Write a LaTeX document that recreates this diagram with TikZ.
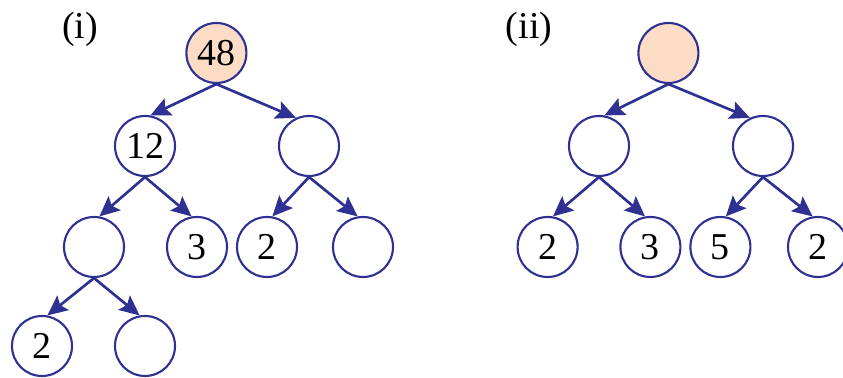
\documentclass[tikz,border=0pt]{standalone}
\usepackage{fontspec}
\setmainfont{Liberation Serif}
\usetikzlibrary{arrows.meta}
\definecolor{treeblue}{HTML}{2E3192}
\definecolor{rootfill}{HTML}{FDDCC5}

\begin{document}
\begin{tikzpicture}[
    treenode/.style={circle, draw=treeblue, line width=1.5pt, minimum size=15mm, inner sep=0pt, font=\fontsize{27}{32}\selectfont},
    rootnode/.style={treenode, fill=rootfill},
    treeedge/.style={-{Stealth[length=5mm, width=4.6mm, inset=0.9mm]}, treeblue, line width=1.9pt},
    partlabel/.style={font=\fontsize{27}{32}\selectfont}
]
\useasboundingbox (0,0) rectangle (21.075,9.45);

% Tree (i): root 48, one extra level below the left-left node.
\node[partlabel] (labi) at (2.0, 8.725) {(i)};
\node[rootnode] (a0) at (5.41, 8.125) {48};
\node[treenode] (a1) at (3.625, 5.8) {12};
\node[treenode] (a2) at (7.725, 5.8) {};
\node[treenode] (a3) at (2.35, 3.275) {};
\node[treenode] (a4) at (4.925, 3.275) {3};
\node[treenode] (a5) at (6.675, 3.275) {2};
\node[treenode] (a6) at (9.075, 3.275) {};
\node[treenode] (a7) at (1.05, 0.8) {2};
\node[treenode] (a8) at (3.625, 0.8) {};

% Tree (ii): empty root, four leaves.
\node[partlabel] (labii) at (13.225, 8.725) {(ii)};
\node[rootnode] (b0) at (16.71, 8.125) {};
\node[treenode] (b1) at (14.975, 5.8) {};
\node[treenode] (b2) at (19.075, 5.8) {};
\node[treenode] (b3) at (13.69, 3.275) {2};
\node[treenode] (b4) at (16.26, 3.275) {3};
\node[treenode] (b5) at (18.01, 3.275) {5};
\node[treenode] (b6) at (20.45, 3.275) {2};

% Edges: parent bottom to the upper rim of the child.
\foreach \p/\c/\a in {a0/a1/80, a0/a2/115, a1/a3/80, a1/a4/100, a2/a5/80, a2/a6/100, a3/a7/80, a3/a8/100,
                      b0/b1/80, b0/b2/115, b1/b3/80, b1/b4/100, b2/b5/80, b2/b6/100} {
  \draw[treeedge] (\p.south) -- (\c.\a);
}
\end{tikzpicture}
\end{document}
